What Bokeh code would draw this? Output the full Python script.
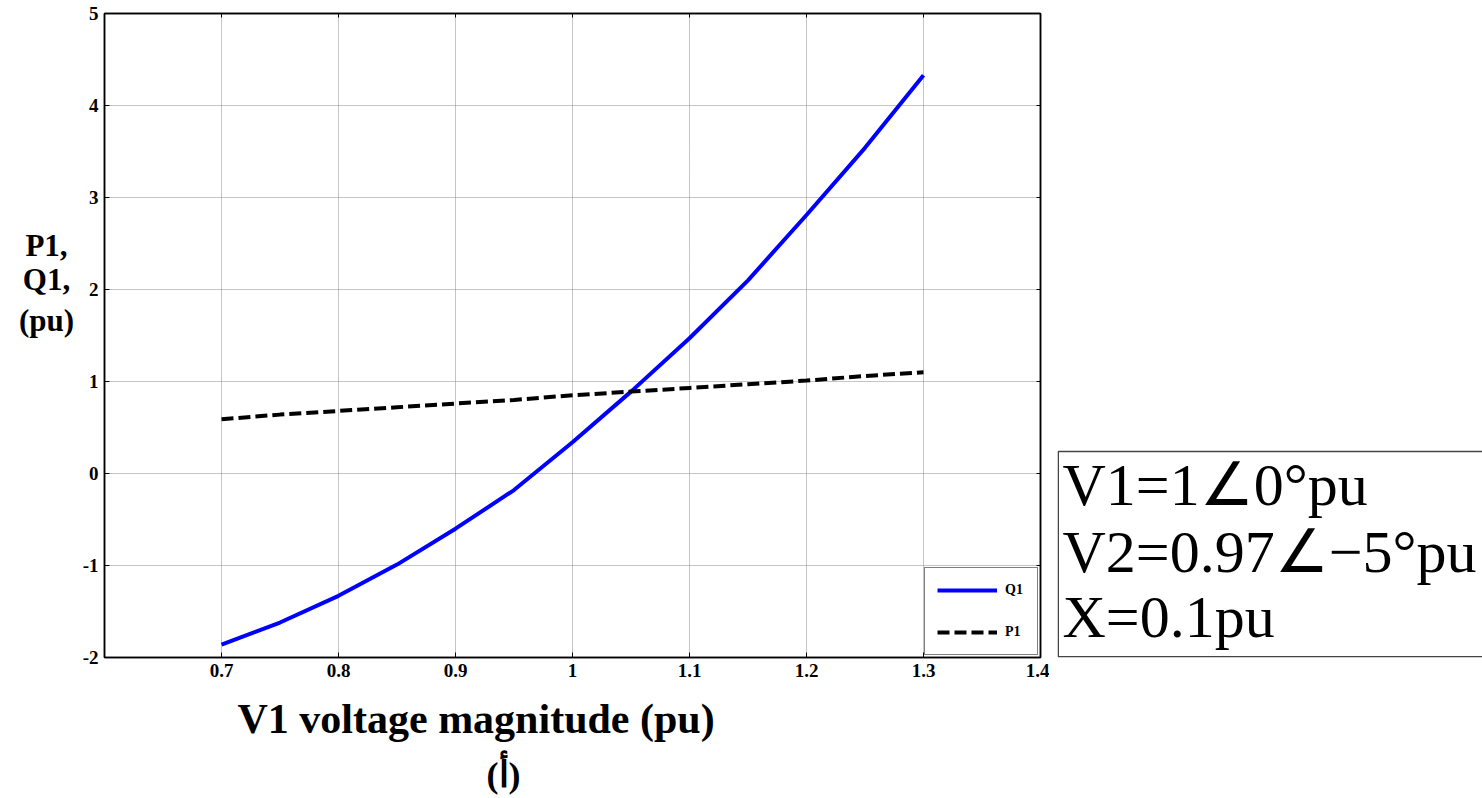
from bokeh.plotting import figure
from bokeh.layouts import row
from bokeh.models import Label, LinearAxis, FixedTicker, Legend, LegendItem, Range1d, Title, BoxAnnotation
from bokeh.embed import file_html
from bokeh.resources import INLINE

v1 = [0.70, 0.75, 0.80, 0.85, 0.90, 0.95, 1.00, 1.05, 1.10, 1.15, 1.20, 1.25, 1.30]
q1 = [-1.86, -1.62, -1.33, -0.99, -0.60, -0.18, 0.34, 0.89, 1.47, 2.10, 2.81, 3.54, 4.33]
p1 = [0.59, 0.64, 0.68, 0.72, 0.76, 0.80, 0.85, 0.89, 0.93, 0.97, 1.01, 1.06, 1.10]
x_ticks = [0.7, 0.8, 0.9, 1.0, 1.1, 1.2, 1.3, 1.4]
y_ticks = [-2, -1, 0, 1, 2, 3, 4, 5]
x_tick_labels = {0.7: "0.7", 0.8: "0.8", 0.9: "0.9", 1.0: "1", 1.1: "1.1", 1.2: "1.2", 1.3: "1.3", 1.4: "1.4"}
y_tick_labels = {-2: "-2", -1: "-1", 0: "0", 1: "1", 2: "2", 3: "3", 4: "4", 5: "5"}
legend_names = ["Q1", "P1"]
info_lines = ["V1=1∠0°pu", "V2=0.97∠−5°pu", "X=0.1pu"]
x_label = "V1 voltage magnitude (pu)"
y_label_lines = ["P1,", "Q1,", "(pu)"]
sub_label = "(أ)"

SERIF = "Liberation Serif"
H = 798
TOP = 13
BOTTOM = H - 657
FH = H - TOP - BOTTOM  # 644
BASE_FIX = 0.37  # empirical baseline correction (em)
LEFT_W = 77


def blank_fig(w, left=0, right=0):
    f = figure(frame_width=w - left - right, frame_height=FH,
               min_border_left=left, min_border_right=right,
               min_border_top=TOP, min_border_bottom=BOTTOM,
               x_axis_type=None, y_axis_type=None,
               x_range=Range1d(0, w - left - right), y_range=Range1d(0, FH),
               output_backend="svg", toolbar_location=None)
    f.grid.visible = False
    f.outline_line_color = None
    return f


# ---- left: y-axis label (horizontal) ----
left_fig = blank_fig(LEFT_W)
YL_FS = 31
for txt, base in zip(y_label_lines, [256, 290, 331]):
    left_fig.add_layout(Label(x=46, y=657 - base + BASE_FIX * YL_FS, text=txt,
                              text_align="center", text_baseline="alphabetic",
                              text_font=SERIF, text_font_style="bold", text_font_size=f"{YL_FS}px",
                              text_color="black"))

# ---- main chart ----
p = figure(frame_width=936, frame_height=FH,
           min_border_left=104 - LEFT_W, min_border_right=9, min_border_top=TOP, min_border_bottom=BOTTOM,
           x_range=Range1d(0.6, 1.4), y_range=Range1d(-2, 5),
           output_backend="svg", toolbar_location=None,
           background_fill_color="white", border_fill_color="white")

p.outline_line_color = "black"
p.outline_line_width = 1.5

for ax, ticks, labels in ((p.xaxis[0], x_ticks, x_tick_labels), (p.yaxis[0], y_ticks, y_tick_labels)):
    ax.ticker = FixedTicker(ticks=ticks)
    ax.major_label_overrides = labels
    ax.major_tick_in = 5
    ax.major_tick_out = 0
    ax.minor_tick_in = 0
    ax.minor_tick_out = 0
    ax.axis_line_color = "black"
    ax.axis_line_width = 1.5
    ax.major_label_text_font = SERIF
    ax.major_label_text_font_style = "bold"
    ax.major_label_text_color = "black"
    ax.major_label_text_font_size = "19px"

p.xaxis[0].major_label_standoff = 6
p.yaxis[0].major_label_standoff = 6

top_ax = LinearAxis(ticker=FixedTicker(ticks=x_ticks), major_tick_in=4, major_tick_out=0,
                    minor_tick_in=0, minor_tick_out=0, major_label_text_font_size="0px",
                    major_label_standoff=0,
                    axis_line_color="black", axis_line_width=1.5)
right_ax = LinearAxis(ticker=FixedTicker(ticks=y_ticks), major_tick_in=4, major_tick_out=0,
                      minor_tick_in=0, minor_tick_out=0, major_label_text_font_size="0px",
                      major_label_standoff=0,
                      axis_line_color="black", axis_line_width=1.5)
p.add_layout(top_ax, "above")
p.add_layout(right_ax, "right")

p.grid.grid_line_color = "#8a8a8a"
p.grid.grid_line_dash = "1 1"
p.grid.grid_line_width = 1
p.xgrid.ticker = FixedTicker(ticks=x_ticks)
p.ygrid.ticker = FixedTicker(ticks=y_ticks)

rq = p.line(v1, q1, line_color="#0000ff", line_width=4)
rp = p.line(v1, p1, line_color="black", line_width=4, line_dash="12 5")

legend = Legend(items=[LegendItem(label=legend_names[0], renderers=[rq]),
                       LegendItem(label=legend_names[1], renderers=[rp])],
                location="bottom_right")
legend.margin = 2
legend.padding = 12
legend.spacing = 22
legend.glyph_width = 60
legend.label_standoff = 8
legend.label_text_font = SERIF
legend.label_text_font_style = "bold"
legend.label_text_font_size = "14px"
legend.label_text_color = "black"
legend.border_line_color = "black"
legend.border_line_width = 1.5
legend.background_fill_alpha = 1
p.add_layout(legend, "center")

p.add_layout(Title(text=x_label, align="left", offset=133, standoff=28,
                   text_font=SERIF, text_font_style="bold", text_font_size="42px",
                   text_color="black"), "below")
p.add_layout(Title(text=sub_label, align="left", offset=382, standoff=-6,
                   text_font=SERIF, text_font_style="bold", text_font_size="36px",
                   text_color="black"), "below")

# ---- right: parameter box ----
right_fig = blank_fig(433, left=8, right=0)
right_fig.add_layout(BoxAnnotation(left=0.75, right=440, bottom=0.75, top=657 - 451,
                                   fill_color="white", fill_alpha=1,
                                   line_color="#444444", line_alpha=1, line_width=1.5))
INFO_FS = 60
for txt, base in zip(info_lines, [507, 574, 639]):
    right_fig.add_layout(Label(x=5, y=657 - base + BASE_FIX * INFO_FS, text=txt,
                               text_align="left", text_baseline="alphabetic",
                               text_font=SERIF, text_font_size=f"{INFO_FS}px", text_color="black"))

layout = row(left_fig, p, right_fig, spacing=0)
open("out.html", "w").write(file_html(layout, INLINE))
